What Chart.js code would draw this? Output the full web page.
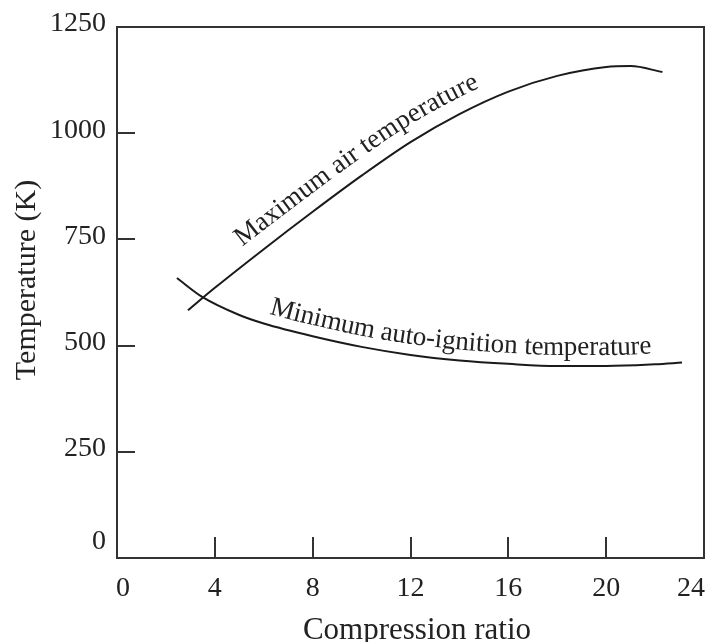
<!DOCTYPE html>
<html>
<head>
<meta charset="utf-8">
<script src="https://cdn.jsdelivr.net/npm/chart.js@4.4.1/dist/chart.umd.min.js"></script>
<style>
  html, body { margin: 0; padding: 0; background: #fff; }
  #wrap { width: 707px; height: 642px; }
</style>
</head>
<body>
<div id="wrap"><canvas id="grafico" width="707" height="642"></canvas></div>
<script>
// datos
const maxRatio = [2.9, 4, 6, 8, 10, 12, 14, 16, 18, 20, 21, 22.3];
const maxTemp = [583, 636, 727, 815, 900, 979, 1045, 1098, 1135, 1156, 1158, 1144];
const minRatio = [2.45, 3.5, 5, 6, 8, 10, 12, 14, 16, 18, 20, 22, 23.1];
const minTemp = [659, 614, 572, 552, 522, 497, 478, 465, 457, 452, 452, 456, 460];
const xTicks = [0, 4, 8, 12, 16, 20, 24];
const yTicks = [0, 250, 500, 750, 1000, 1250];
const maxLabel = 'Maximum air temperature';
const minLabel = 'Minimum auto-ignition temperature';
const xTitle = 'Compression ratio';
const yTitle = 'Temperature (K)';

const serif = '"Liberation Serif", "DejaVu Serif", serif';
const ink = '#222';

function puntos(xs, ys) {
    return xs.map((x, i) => ({ x: x, y: ys[i] }));
}

// muestrea la curva bezier que dibuja Chart.js
function muestrearCurva(els) {
    const pts = [];
    for (let i = 0; i < els.length - 1; i++) {
        const a = els[i], b = els[i + 1];
        const c1x = a.cp2x !== undefined ? a.cp2x : a.x, c1y = a.cp2y !== undefined ? a.cp2y : a.y;
        const c2x = b.cp1x !== undefined ? b.cp1x : b.x, c2y = b.cp1y !== undefined ? b.cp1y : b.y;
        for (let k = 0; k < 20; k++) {
            const t = k / 20, u = 1 - t;
            pts.push({
                x: u*u*u*a.x + 3*u*u*t*c1x + 3*u*t*t*c2x + t*t*t*b.x,
                y: u*u*u*a.y + 3*u*u*t*c1y + 3*u*t*t*c2y + t*t*t*b.y
            });
        }
    }
    const last = els[els.length - 1];
    pts.push({ x: last.x, y: last.y });
    return pts;
}

function textoSobreCurva(ctx, pts, text, startX, offset) {
    const acc = [0];
    for (let i = 1; i < pts.length; i++) {
        acc.push(acc[i - 1] + Math.hypot(pts[i].x - pts[i - 1].x, pts[i].y - pts[i - 1].y));
    }
    function en(s) {
        if (s <= 0) return pts[0];
        for (let i = 1; i < pts.length; i++) {
            if (acc[i] >= s) {
                const f = (s - acc[i - 1]) / (acc[i] - acc[i - 1] || 1);
                return { x: pts[i - 1].x + f * (pts[i].x - pts[i - 1].x), y: pts[i - 1].y + f * (pts[i].y - pts[i - 1].y) };
            }
        }
        return pts[pts.length - 1];
    }
    let s = 0;
    for (let i = 0; i < pts.length; i++) {
        if (pts[i].x >= startX) { s = acc[i]; break; }
    }
    for (const ch of text) {
        const w = ctx.measureText(ch).width;
        const mid = s + w / 2;
        const p = en(mid);
        const p1 = en(mid - 8), p2 = en(mid + 8);
        const ang = Math.atan2(p2.y - p1.y, p2.x - p1.x);
        ctx.save();
        ctx.translate(p.x, p.y);
        ctx.rotate(ang);
        ctx.fillText(ch, -w / 2, -offset);
        ctx.restore();
        s += w;
    }
}

const ejes = {
    id: 'ejes',
    afterDatasetsDraw(chart) {
        const ctx = chart.ctx;
        const area = chart.chartArea;
        const xs = chart.scales.x, ys = chart.scales.y;
        ctx.save();
        // marco
        ctx.strokeStyle = '#333';
        ctx.lineWidth = 2;
        ctx.strokeRect(area.left, area.top, area.right - area.left, area.bottom - area.top);
        // marcas hacia dentro
        ctx.beginPath();
        xTicks.slice(1, -1).forEach(v => {
            const px = Math.round(xs.getPixelForValue(v));
            ctx.moveTo(px, area.bottom);
            ctx.lineTo(px, area.bottom - 21);
        });
        yTicks.slice(1, -1).forEach(v => {
            const py = Math.round(ys.getPixelForValue(v));
            ctx.moveTo(area.left, py);
            ctx.lineTo(area.left + 18, py);
        });
        ctx.stroke();

        // etiquetas
        ctx.fillStyle = ink;
        ctx.font = '28px ' + serif;
        ctx.textBaseline = 'alphabetic';
        xTicks.forEach((v, i) => {
            let px = xs.getPixelForValue(v);
            if (i === 0) { ctx.textAlign = 'left'; px -= 1; }
            else if (i === xTicks.length - 1) { ctx.textAlign = 'right'; px += 1; }
            else ctx.textAlign = 'center';
            ctx.fillText(String(v), px, 596);
        });
        ctx.textAlign = 'right';
        ctx.textBaseline = 'middle';
        yTicks.forEach(v => {
            const py = ys.getPixelForValue(v) - (v === 0 ? 16 : 3);
            ctx.fillText(String(v), 106, py);
        });

        // titulos
        ctx.textBaseline = 'alphabetic';
        ctx.textAlign = 'center';
        ctx.font = '31px ' + serif;
        ctx.fillText(xTitle, 417, 639);
        ctx.save();
        ctx.translate(35, 280);
        ctx.rotate(-Math.PI / 2);
        ctx.font = '30px ' + serif;
        ctx.fillText(yTitle, 0, 0);
        ctx.restore();

        // rotulos de las curvas
        ctx.font = '27px ' + serif;
        ctx.textAlign = 'left';
        const curvaMax = muestrearCurva(chart.getDatasetMeta(0).data);
        const curvaMin = muestrearCurva(chart.getDatasetMeta(1).data);
        textoSobreCurva(ctx, curvaMax, maxLabel, 250, 15);
        textoSobreCurva(ctx, curvaMin, minLabel, 264, 11);
        ctx.restore();
    }
};

const ctx = document.getElementById('grafico').getContext('2d');
const grafico = new Chart(ctx, {
    type: 'line',
    data: {
        datasets: [{
            label: maxLabel,
            data: puntos(maxRatio, maxTemp),
            borderColor: '#1a1a1a',
            borderWidth: 2,
            pointRadius: 0,
            cubicInterpolationMode: 'monotone',
            fill: false
        }, {
            label: minLabel,
            data: puntos(minRatio, minTemp),
            borderColor: '#1a1a1a',
            borderWidth: 2,
            pointRadius: 0,
            cubicInterpolationMode: 'monotone',
            fill: false
        }]
    },
    options: {
        responsive: false,
        animation: false,
        layout: { padding: { left: 117, top: 27, right: 3, bottom: 84 } },
        plugins: {
            legend: { display: false },
            tooltip: { enabled: false }
        },
        scales: {
            x: { type: 'linear', min: 0, max: 24, display: false },
            y: { type: 'linear', min: 0, max: 1250, display: false }
        }
    },
    plugins: [ejes]
});
</script>
</body>
</html>
